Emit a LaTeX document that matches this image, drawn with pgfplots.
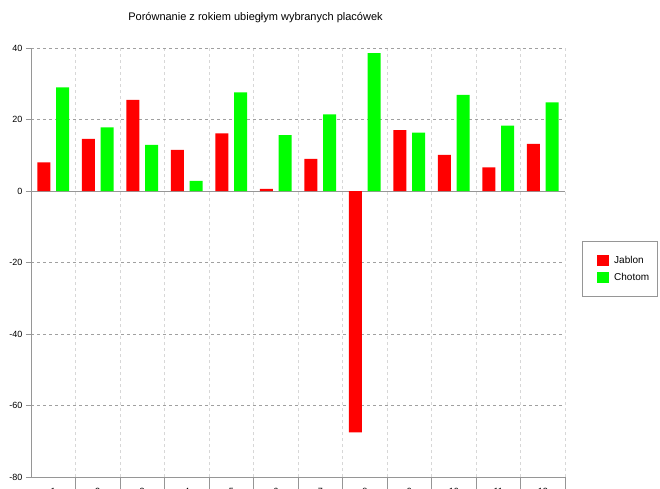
\documentclass[border=0pt]{standalone}
\usepackage{pgfplots}
\pgfplotsset{compat=1.18}
\usepackage{fontspec}
\setmainfont{Liberation Sans}
\definecolor{axgray}{RGB}{150,150,150}
\definecolor{gridgray}{RGB}{160,160,160}
\definecolor{vgrid}{RGB}{215,215,215}
\begin{document}
\begin{tikzpicture}[x=1pt,y=1pt]
\begin{axis}[
  at={(0pt,0pt)}, anchor=south west,
  scale only axis, width=534pt, height=429pt,
  xmin=0.5, xmax=12.5, ymin=-80, ymax=40,
  axis lines=left, axis line style={-, draw=axgray},
  tick align=outside,
  ytick={-80,-60,...,40},
  xtick={1,...,12},
  minor xtick={1.5,2.5,...,12.5},
  major tick length=5pt, minor tick length=14pt,
  xtick style={draw=none},
  minor x tick style={draw=axgray},
  ytick style={draw=axgray},
  ymajorgrids, xminorgrids,
  major grid style={dashed, draw=gridgray},
  minor grid style={dashed, draw=vgrid},
  extra y ticks={0}, extra y tick labels={},
  extra y tick style={grid=major, major grid style={solid, draw=axgray}},
  tick label style={font=\fontsize{9}{10}\selectfont},
  /pgf/number format/assume math mode=true,
  xticklabel style={yshift=-3pt},
  legend style={at={(1.0318,0.485)}, anchor=west, draw=axgray, fill=white,
    font=\fontsize{10}{12}\selectfont, inner xsep=6pt, inner ysep=13pt,
    row sep=4pt},
  legend cell align=left,
]
\addplot[ybar, bar width=0.29, bar shift=-0.21, fill=red, draw=none,
  legend image code/.code={\path (0pt,0pt) (24pt,0pt); \fill[red] (9pt,-5.5pt) rectangle (21pt,5.5pt);}]
  coordinates {(1,8.0) (2,14.6) (3,25.5) (4,11.5) (5,16.1) (6,0.6)
               (7,9.0) (8,-67.5) (9,17.0) (10,10.1) (11,6.6) (12,13.2)};
\addplot[ybar, bar width=0.29, bar shift=0.21, fill=green, draw=none,
  legend image code/.code={\path (0pt,0pt) (24pt,0pt); \fill[green] (9pt,-5.5pt) rectangle (21pt,5.5pt);}]
  coordinates {(1,29.0) (2,17.8) (3,12.9) (4,2.8) (5,27.6) (6,15.6)
               (7,21.4) (8,38.6) (9,16.3) (10,26.9) (11,18.3) (12,24.8)};
\legend{Jablon, Chotom}
\end{axis}
\node[font=\fontsize{11}{13}\selectfont] at (224.5pt,459pt) {Porównanie z rokiem ubiegłym wybranych placówek};
\pgfresetboundingbox
\useasboundingbox (-31pt,-11pt) rectangle (629pt,477pt);
\end{tikzpicture}
\end{document}
